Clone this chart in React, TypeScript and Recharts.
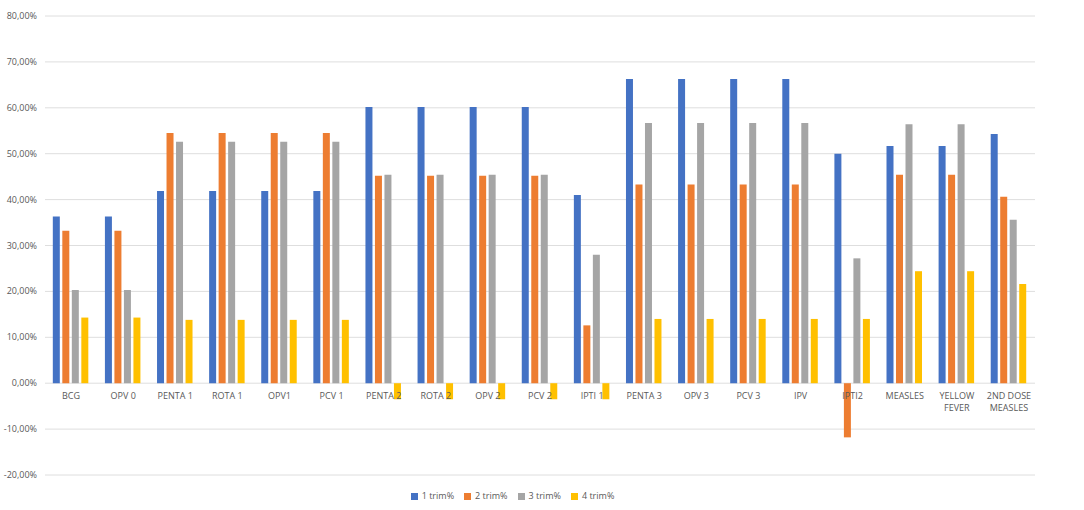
import React from 'react';
import {
  BarChart,
  Bar,
  XAxis,
  YAxis,
  CartesianGrid,
  Legend,
} from 'recharts';

document.body.style.margin = '0';

const vaccines = [
  'BCG', 'OPV 0', 'PENTA 1', 'ROTA 1', 'OPV1', 'PCV 1', 'PENTA 2', 'ROTA 2', 'OPV 2', 'PCV 2',
  'IPTI 1', 'PENTA 3', 'OPV 3', 'PCV 3', 'IPV', 'IPTI2', 'MEASLES', 'YELLOW FEVER', '2ND DOSE MEASLES',
];
const trim1 = [36.3, 36.3, 41.9, 41.9, 41.9, 41.9, 60.2, 60.2, 60.2, 60.2, 41.0, 66.3, 66.3, 66.3, 66.3, 50.0, 51.7, 51.7, 54.3];
const trim2 = [33.2, 33.2, 54.5, 54.5, 54.5, 54.5, 45.2, 45.2, 45.2, 45.2, 12.6, 43.3, 43.3, 43.3, 43.3, -11.8, 45.4, 45.4, 40.6];
const trim3 = [20.3, 20.3, 52.6, 52.6, 52.6, 52.6, 45.4, 45.4, 45.4, 45.4, 28.0, 56.7, 56.7, 56.7, 56.7, 27.2, 56.4, 56.4, 35.6];
const trim4 = [14.3, 14.3, 13.8, 13.8, 13.8, 13.8, -3.5, -3.5, -3.5, -3.5, -3.5, 14.0, 14.0, 14.0, 14.0, 14.0, 24.4, 24.4, 21.6];
const yTicks = [-20, -10, 0, 10, 20, 30, 40, 50, 60, 70, 80];

const data = vaccines.map((name, i) => ({
  name,
  t1: trim1[i],
  t2: trim2[i],
  t3: trim3[i],
  t4: trim4[i],
}));

const W = 1084;
const H = 510;
const TOP = 16;
const Y_MIN = -20;
const Y_MAX = 80;
const FONT = '"Open Sans", sans-serif';
const TEXT = '#595959';

const pct = (v: number) => `${v.toFixed(2).replace('.', ',')}%`;

// category labels sit just under the zero line, not at the bottom of the plot
function ZeroTick(props: any) {
  const { x, y, payload } = props;
  const zeroY = TOP + ((y - TOP) * Y_MAX) / (Y_MAX - Y_MIN);
  const label: string = payload.value;
  let lines = [label];
  if (label.length > 10) {
    const cut = label.lastIndexOf(' ');
    lines = [label.slice(0, cut), label.slice(cut + 1)];
  }
  return (
    <text x={x} y={zeroY + 16} textAnchor="middle" fill={TEXT} fontSize={9} fontFamily={FONT}>
      {lines.map((l, i) => (
        <tspan key={i} x={x} dy={i === 0 ? 0 : 12}>
          {l}
        </tspan>
      ))}
    </text>
  );
}

function PctTick(props: any) {
  const { x, y, payload } = props;
  return (
    <text x={x} y={y} dy={3} textAnchor="end" fill={TEXT} fontSize={9} fontFamily={FONT}>
      {pct(payload.value)}
    </text>
  );
}

export default function App() {
  return (
    <BarChart
      width={W}
      height={H}
      data={data}
      margin={{ top: TOP, right: 49, left: 0, bottom: 8 }}
      barCategoryGap="15%"
      barGap={2.5}
    >
      <CartesianGrid vertical={false} stroke="#dedede" />
      <XAxis
        dataKey="name"
        height={14}
        tickSize={0}
        tickMargin={0}
        axisLine={false}
        tickLine={false}
        interval={0}
        tick={<ZeroTick />}
      />
      <YAxis
        width={45}
        domain={[Y_MIN, Y_MAX]}
        ticks={yTicks}
        axisLine={false}
        tickLine={false}
        tickSize={0}
        tickMargin={8}
        tick={<PctTick />}
      />
      <Legend
        verticalAlign="bottom"
        align="center"
        iconType="square"
        iconSize={7}
        wrapperStyle={{ fontSize: 9, fontFamily: FONT, color: TEXT }}
        formatter={(v) => <span style={{ color: TEXT }}>{v}</span>}
      />
      <Bar dataKey="t1" name="1 trim%" fill="#4472C4" isAnimationActive={false} />
      <Bar dataKey="t2" name="2 trim%" fill="#ED7D31" isAnimationActive={false} />
      <Bar dataKey="t3" name="3 trim%" fill="#A5A5A5" isAnimationActive={false} />
      <Bar dataKey="t4" name="4 trim%" fill="#FFC000" isAnimationActive={false} />
    </BarChart>
  );
}
